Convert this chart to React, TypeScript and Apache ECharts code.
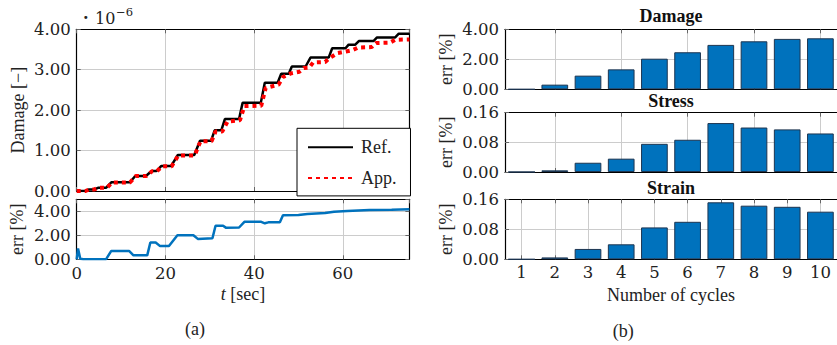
import React, { useEffect, useRef } from "react";
import * as echarts from "echarts";

// Cumulative damage over time (units of 1e-6): reference solution vs. approximation
const refDamage: [number, number][] = [
  [0, 0], [2.0, 0], [2.8, 0.04], [4.0, 0.04], [4.8, 0.08], [6.6, 0.08], [7.8, 0.215],
  [12.0, 0.215], [13.2, 0.37], [15.6, 0.37], [16.9, 0.495], [18.0, 0.495], [19.1, 0.62],
  [21.3, 0.62], [22.8, 0.89], [26.5, 0.89], [27.8, 1.245], [30.3, 1.245], [31.1, 1.5],
  [32.6, 1.5], [33.4, 1.78], [36.6, 1.78], [37.4, 2.18], [41.5, 2.18], [42.4, 2.68],
  [45.3, 2.68], [46.1, 2.9], [47.8, 2.9], [48.5, 3.08], [51.6, 3.08], [52.7, 3.3],
  [56.8, 3.3], [57.6, 3.53], [60.6, 3.53], [61.3, 3.62], [62.8, 3.62], [63.6, 3.71],
  [66.9, 3.71], [67.7, 3.8], [71.8, 3.8], [72.6, 3.89], [75, 3.89],
];

const appDamage: [number, number][] = [
  [0, 0], [2.0, 0], [2.8, 0.04], [4.0, 0.04], [4.8, 0.08], [6.8, 0.08], [8.0, 0.21],
  [12.0, 0.21], [13.3, 0.37], [15.7, 0.37], [17.0, 0.49], [18.1, 0.49], [19.2, 0.61],
  [21.4, 0.61], [22.9, 0.88], [26.6, 0.88], [27.9, 1.23], [30.4, 1.23], [31.3, 1.47],
  [32.8, 1.47], [34.0, 1.72], [36.8, 1.75], [37.8, 2.1], [41.6, 2.11], [42.6, 2.55],
  [45.5, 2.63], [46.5, 2.82], [48.3, 2.91], [50.2, 2.95], [51.2, 3.04], [52.4, 3.05],
  [53.3, 3.18], [56.0, 3.19], [56.9, 3.28], [58.8, 3.41], [60.7, 3.45], [62.3, 3.49],
  [63.5, 3.55], [66.5, 3.56], [67.5, 3.66], [70.6, 3.67], [71.8, 3.74], [75, 3.75],
];

// Relative error of the approximation [%]
const errDamage: [number, number][] = [
  [0, 0], [0.3, 0.9], [0.8, 0.05], [1.5, 0], [6.6, 0], [7.8, 0.7], [11.8, 0.7],
  [12.8, 0.33], [15.9, 0.33], [16.6, 1.4], [17.8, 1.4], [18.8, 1.1], [20.8, 1.1],
  [22.7, 2.0], [26.3, 2.0], [27.3, 1.7], [30.6, 1.75], [31.3, 2.8], [33.0, 2.8],
  [33.7, 2.62], [36.6, 2.65], [37.8, 3.12], [41.6, 3.12], [42.4, 3.0], [43.2, 3.08],
  [45.8, 3.08], [46.5, 3.68], [50, 3.7], [52, 3.78], [56, 3.85], [58, 3.97],
  [61, 4.03], [66, 4.1], [71, 4.12], [75, 4.18],
];

// Error per number of cycles [%]
const cycles = [1, 2, 3, 4, 5, 6, 7, 8, 9, 10];
const damageErrPct = [0, 0.31, 0.91, 1.33, 2.04, 2.47, 2.96, 3.2, 3.36, 3.4];
const stressErrPct = [0, 0.0045, 0.025, 0.036, 0.076, 0.087, 0.132, 0.12, 0.115, 0.104];
const strainErrPct = [0, 0.005, 0.0276, 0.04, 0.085, 0.1, 0.152, 0.143, 0.14, 0.127];

const NUM_FONT = '"DejaVu Serif", serif';
const TXT_FONT = '"Liberation Serif", "Times New Roman", serif';
const INK = "#222";
const GRID_GRAY = "#cccccc";
const TICK_GRAY = "#666";
const BLUE = "#0072BD";
const BAR_EDGE = "#1d3550";

const numLabel = (fmt: (v: number) => string, margin: number, extra: any = {}) => ({
  show: true,
  fontFamily: NUM_FONT,
  fontSize: 16.5,
  color: INK,
  margin,
  formatter: fmt,
  ...extra,
});

const axisBase = (gridIndex: number, position: string) => ({
  type: "value",
  gridIndex,
  position,
  axisLine: { show: true, onZero: false, lineStyle: { color: "#000", width: 1.2 } },
  axisTick: { show: true, inside: true, length: 4, lineStyle: { color: TICK_GRAY, width: 1 } },
  axisLabel: { show: false },
  splitLine: { show: false },
});

const gridLine = { show: true, lineStyle: { color: GRID_GRAY, width: 1 } };

const fixed2 = (v: number) => v.toFixed(2);

const barSeries = (axisIdx: number, values: number[]) => ({
  type: "bar",
  xAxisIndex: axisIdx * 2 + 4,
  yAxisIndex: axisIdx + 4,
  barWidth: 26.7,
  data: cycles.map((c, i) => [c, values[i]]),
  itemStyle: { color: BLUE, borderColor: BAR_EDGE, borderWidth: 1 },
});

const textStyle = (text: string, font: string, align = "left") => ({
  text,
  font,
  fill: INK,
  textAlign: align,
  align,
  textVerticalAlign: "middle",
  verticalAlign: "middle",
});

export default function App() {
  const ref = useRef<HTMLDivElement>(null);

  useEffect(() => {
    if (!ref.current) return;
    const chart = echarts.init(ref.current, undefined, { renderer: "svg" });

    const timeAxis = { min: 0, max: 75, interval: 20 };
    const cycleAxis = { min: 0.5, max: 10.5 };
    const evenCycles = { customValues: [2, 4, 6, 8, 10] };

    const option: any = {
      animation: false,
      backgroundColor: "#fff",
      grid: [
        { left: 76.7, top: 29.3, width: 332.7, height: 161.7 },
        { left: 76.7, top: 199.3, width: 332.7, height: 60 },
        { left: 505, top: 29.3, width: 333.3, height: 60 },
        { left: 505, top: 112.7, width: 333.3, height: 59.3 },
        { left: 505, top: 199.3, width: 333.3, height: 60 },
      ],
      xAxis: [
        { ...axisBase(0, "bottom"), ...timeAxis, splitLine: gridLine },
        { ...axisBase(0, "top"), ...timeAxis },
        {
          ...axisBase(1, "bottom"),
          ...timeAxis,
          splitLine: gridLine,
          axisLabel: numLabel((v: number) => String(v), 6, { showMaxLabel: false }),
          name: "{i|t} [sec]",
          nameLocation: "middle",
          nameGap: 26,
          nameTextStyle: {
            fontFamily: TXT_FONT,
            fontSize: 18,
            color: INK,
            rich: { i: { fontFamily: TXT_FONT, fontSize: 18, fontStyle: "italic", color: INK } },
          },
        },
        { ...axisBase(1, "top"), ...timeAxis },
        {
          ...axisBase(2, "bottom"), ...cycleAxis, splitLine: gridLine,
          axisTick: { ...axisBase(2, "bottom").axisTick, ...evenCycles },
        },
        {
          ...axisBase(2, "top"), ...cycleAxis,
          axisTick: { ...axisBase(2, "top").axisTick, ...evenCycles },
        },
        {
          ...axisBase(3, "bottom"), ...cycleAxis, splitLine: gridLine,
          axisTick: { ...axisBase(3, "bottom").axisTick, ...evenCycles },
        },
        {
          ...axisBase(3, "top"), ...cycleAxis,
          axisTick: { ...axisBase(3, "top").axisTick, ...evenCycles },
        },
        {
          ...axisBase(4, "bottom"), ...cycleAxis, splitLine: gridLine,
          axisTick: { ...axisBase(4, "bottom").axisTick, customValues: cycles },
          axisLabel: numLabel((v: number) => String(v), 5, { customValues: cycles }),
          name: "Number of cycles",
          nameLocation: "middle",
          nameGap: 27,
          nameTextStyle: { fontFamily: TXT_FONT, fontSize: 18, color: INK },
        },
        {
          ...axisBase(4, "top"), ...cycleAxis,
          axisTick: { ...axisBase(4, "top").axisTick, customValues: cycles },
        },
      ],
      yAxis: [
        {
          ...axisBase(0, "left"), min: 0, max: 4, interval: 1, splitLine: gridLine,
          axisLabel: numLabel(fixed2, 6),
          name: "Damage [\u2212]", nameLocation: "middle", nameGap: 50, nameRotate: 90,
          nameTextStyle: { fontFamily: TXT_FONT, fontSize: 18, color: INK },
        },
        { ...axisBase(0, "right"), min: 0, max: 4, interval: 1 },
        {
          ...axisBase(1, "left"), min: 0, max: 5, interval: 2, splitLine: gridLine,
          axisLabel: numLabel(fixed2, 6, { showMaxLabel: false }),
          name: "err [%]", nameLocation: "middle", nameGap: 51, nameRotate: 90,
          nameTextStyle: { fontFamily: TXT_FONT, fontSize: 18, color: INK },
        },
        { ...axisBase(1, "right"), min: 0, max: 5, interval: 2 },
        {
          ...axisBase(2, "left"), min: 0, max: 4, interval: 2, splitLine: gridLine,
          axisLabel: numLabel(fixed2, 6),
          name: "err [%]", nameLocation: "middle", nameGap: 50, nameRotate: 90,
          nameTextStyle: { fontFamily: TXT_FONT, fontSize: 18, color: INK },
        },
        {
          ...axisBase(3, "left"), min: 0, max: 0.16, interval: 0.08, splitLine: gridLine,
          axisLabel: numLabel(fixed2, 6),
          name: "err [%]", nameLocation: "middle", nameGap: 50, nameRotate: 90,
          nameTextStyle: { fontFamily: TXT_FONT, fontSize: 18, color: INK },
        },
        {
          ...axisBase(4, "left"), min: 0, max: 0.16, interval: 0.08, splitLine: gridLine,
          axisLabel: numLabel(fixed2, 6),
          name: "err [%]", nameLocation: "middle", nameGap: 50, nameRotate: 90,
          nameTextStyle: { fontFamily: TXT_FONT, fontSize: 18, color: INK },
        },
      ],
      legend: {
        data: ["Ref.", "App."],
        orient: "vertical",
        left: 297,
        top: 128.3,
        backgroundColor: "#fff",
        borderColor: "#000",
        borderWidth: 1,
        borderRadius: 0,
        padding: [10, 14, 9, 10],
        itemWidth: 45,
        itemHeight: 14,
        itemGap: 12.6,
        itemStyle: { opacity: 0 },
        textStyle: { fontFamily: TXT_FONT, fontSize: 18, color: INK, padding: [0, 0, 0, 3] },
      },
      series: [
        {
          name: "Ref.", type: "line", xAxisIndex: 0, yAxisIndex: 0, data: refDamage,
          symbol: "none", showSymbol: false,
          lineStyle: { color: "#000", width: 2.5 }, itemStyle: { color: "#000" },
        },
        {
          name: "App.", type: "line", xAxisIndex: 0, yAxisIndex: 0, data: appDamage,
          symbol: "none", showSymbol: false,
          lineStyle: { color: "#ff0000", width: 4, type: [4, 4], cap: "butt" },
          itemStyle: { color: "#ff0000" },
        },
        {
          name: "err", type: "line", xAxisIndex: 2, yAxisIndex: 2, data: errDamage,
          symbol: "none", showSymbol: false,
          lineStyle: { color: BLUE, width: 2.5 },
        },
        barSeries(0, damageErrPct),
        barSeries(1, stressErrPct),
        barSeries(2, strainErrPct),
      ],
      graphic: [
        // scale factor of the damage axis: ·10^-6
        { type: "text", x: 83, y: 17, style: textStyle("\u00b7", `bold 16px ${NUM_FONT}`) },
        { type: "text", x: 95, y: 18, style: textStyle("10", `16px ${NUM_FONT}`) },
        { type: "text", x: 116, y: 11.5, style: textStyle("\u22126", `11.5px ${NUM_FONT}`) },
        ...[
          { t: "Damage", y: 16.2 },
          { t: "Stress", y: 100.8 },
          { t: "Strain", y: 187.5 },
        ].map((d) => ({
          type: "text", x: 671, y: d.y,
          style: { ...textStyle(d.t, `bold 18px ${TXT_FONT}`, "center"), fill: "#111" },
        })),
        { type: "text", x: 195, y: 329, style: textStyle("(a)", `18px ${TXT_FONT}`, "center") },
        { type: "text", x: 623.3, y: 331, style: textStyle("(b)", `18px ${TXT_FONT}`, "center") },
      ],
    };

    chart.setOption(option);
    return () => chart.dispose();
  }, []);

  return (
    <div
      ref={ref}
      style={{ position: "absolute", left: 0, top: 0, width: 837, height: 345, background: "#fff" }}
    />
  );
}
